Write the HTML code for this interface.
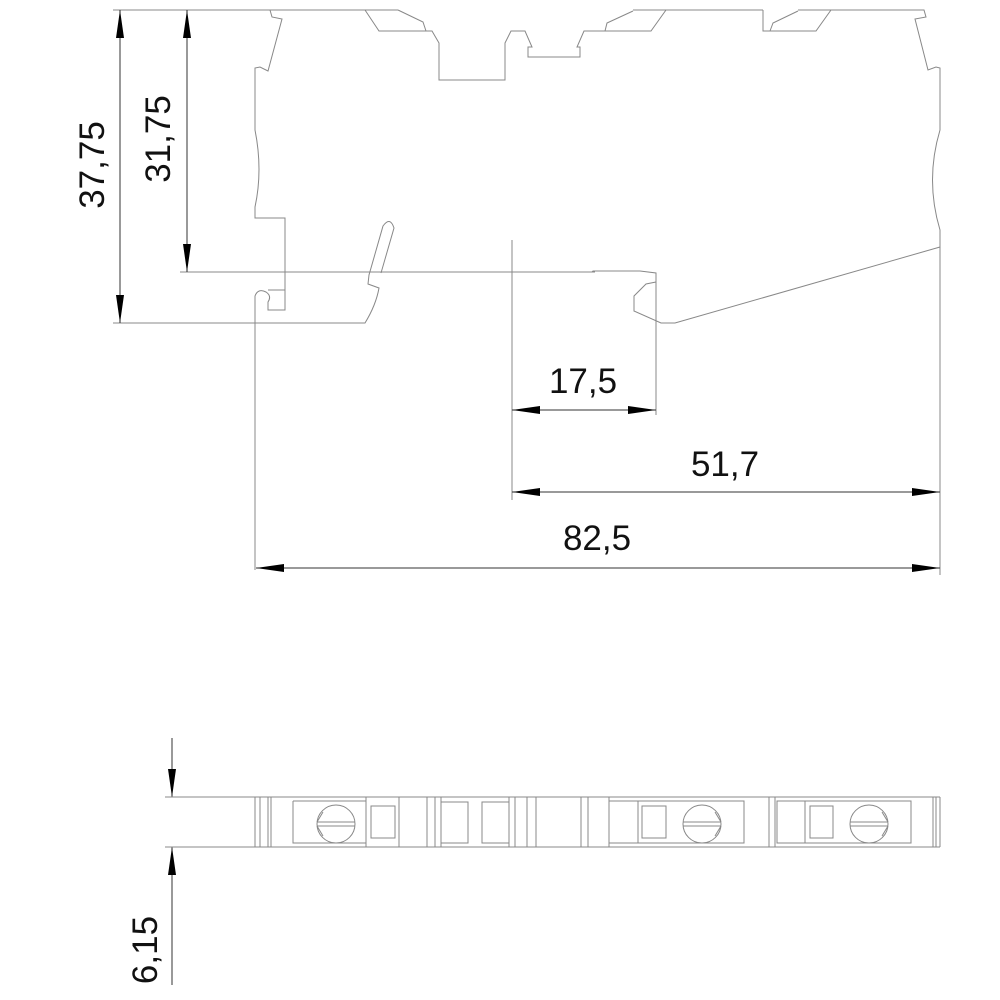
<!DOCTYPE html>
<html><head><meta charset="utf-8"><style>
html,body{margin:0;padding:0;background:#fff;width:1000px;height:1000px;overflow:hidden}
svg text{font-family:"Liberation Sans",sans-serif;font-size:35px;fill:#111}
</style></head><body>
<svg width="1000" height="1000" viewBox="0 0 1000 1000" xmlns="http://www.w3.org/2000/svg">
<defs>
<marker id="a" viewBox="0 0 28 8" refX="28" refY="4" markerWidth="28" markerHeight="8" markerUnits="userSpaceOnUse" orient="auto-start-reverse"><path d="M0,0 L28,4 L0,8z" fill="#000"/></marker>
</defs>
<g fill="none" stroke="#888" stroke-width="1">
<path d="M270,10 L272,17 L282,19 L268,71 L260,67 L255,68 L255,130 Q263,170 255,207 L255,218 L285,218 L285,310 L268,310 L268,302 Q272,296 266,292 Q258,288 255,296 L255,570"/>
<path d="M268,290 L285,290"/>
<path d="M255,323 L365,323 Q376,305 379,288 L368,284 L369,275 L383,226 Q390,216 394,228 L381,273"/>
<path d="M270,10 L398,10 M633,10 L763,10 M798,10 L924,10 L926,17 L915,19 L928,70 L936,67 L940,68 L940,130 Q925,180 940,230 L940,575"/>
<path d="M940,247 L675,323 L661,323 L634,311 L634,296 L646,284 L656,282"/>
<path d="M592,272 L593,271 L640,271 L656,273 L656,415"/>
<path d="M365,10 L379,31 L432,31 L439,43 L439,80 L505,80 L505,43 L511,31 L525,31 L532,47 L528,47 L528,57 L580,57 L580,47 L577,47 L584,31 L651,31 L666,10"/>
<path d="M398,10 L423,22 L426,31"/>
<path d="M605,31 L607,23 L633,11"/>
<path d="M763,10 L763,31 L816,31 L831,10"/>
<path d="M770,31 L773,23 L798,11"/>
<path d="M113,10 L270,10 M113,323 L255,323 M180,272 L595,272 M512,240 L512,500"/>
</g>
<g stroke="#333" stroke-width="1" fill="none">
<line x1="120" y1="10" x2="120" y2="323" marker-start="url(#a)" marker-end="url(#a)"/>
<line x1="187" y1="10" x2="187" y2="272" marker-start="url(#a)" marker-end="url(#a)"/>
<line x1="512" y1="410" x2="656" y2="410" marker-start="url(#a)" marker-end="url(#a)"/>
<line x1="512" y1="492" x2="940" y2="492" marker-start="url(#a)" marker-end="url(#a)"/>
<line x1="256" y1="568" x2="940" y2="568" marker-start="url(#a)" marker-end="url(#a)"/>
<line x1="172" y1="738" x2="172" y2="797" marker-end="url(#a)"/>
<line x1="172" y1="985" x2="172" y2="847" marker-end="url(#a)"/>
</g>
<text x="583" y="393" text-anchor="middle">17,5</text>
<text x="725" y="476" text-anchor="middle">51,7</text>
<text x="597" y="550" text-anchor="middle">82,5</text>
<text transform="translate(104,165) rotate(-90)" text-anchor="middle">37,75</text>
<text transform="translate(170,139) rotate(-90)" text-anchor="middle">31,75</text>
<text transform="translate(157,950) rotate(-90)" text-anchor="middle">6,15</text>
<g fill="none" stroke="#888" stroke-width="1">
<path d="M165,797 L940,797 M165,847 L940,847 M940,797 L940,847"/>
<path d="M255,797V847 M260,797V847 M268,797V847 M271,797V847 M427,797V847 M435,797V847 M441,797V847 M509,797V847 M515,797V847 M527,797V847 M536,797V847 M581,797V847 M588,797V847 M769,797V847 M775,797V847 M933,797V847 M936,797V847"/>
<path d="M293,801 H366 V797 M366,801 V843 M293,801 V843 H366 V847 M399,797 V847"/>
<rect x="371" y="806" width="24" height="32"/>
<circle cx="336" cy="824" r="19"/>
<path d="M317,822 H355 M317,826 H355 M323,812 L317,822 M323,836 L317,826"/>
<rect x="441" y="802" width="27" height="41"/>
<rect x="482" y="802" width="27" height="41"/>
<path d="M609,797V847 M609,801 H744 V843 H609 M638,801 V843"/>
<rect x="642" y="806" width="24" height="32"/>
<circle cx="702" cy="824" r="19"/>
<path d="M683,822 H721 M683,826 H721 M715,812 L721,822 M715,836 L721,826"/>
<path d="M777,801 H911 V843 H777 Z M805,801 V843"/>
<rect x="810" y="806" width="23" height="32"/>
<circle cx="869" cy="824" r="19"/>
<path d="M850,822 H888 M850,826 H888 M882,812 L888,822 M882,836 L888,826"/>
</g>
</svg>
</body></html>
